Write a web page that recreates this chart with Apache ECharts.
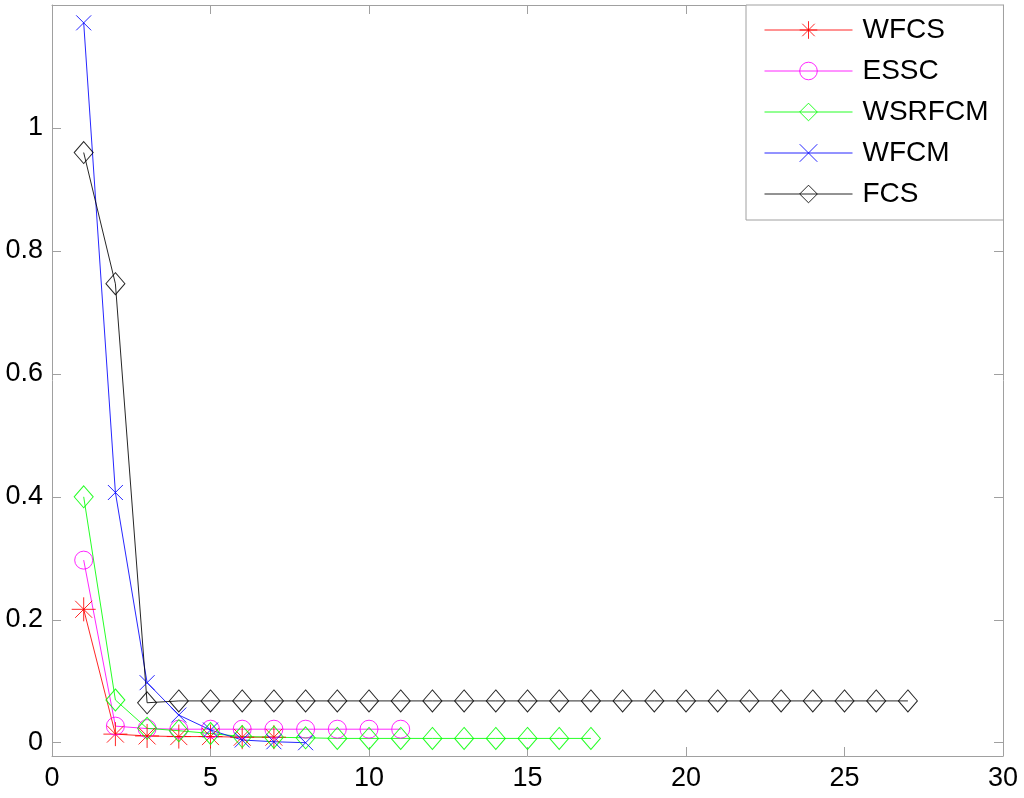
<!DOCTYPE html>
<html>
<head>
<meta charset="utf-8">
<style>
  html, body { margin: 0; padding: 0; background: #fff; }
  #chart { width: 1024px; height: 798px; }
</style>
<script src="https://cdn.jsdelivr.net/npm/echarts@6/dist/echarts.min.js"></script>
</head>
<body>
<div id="chart"></div>
<script>
// values, x = 1, 2, 3 ...
var seriesNames = ['WFCS', 'ESSC', 'WSRFCM', 'WFCM', 'FCS']
var wfcs = [0.217, 0.014, 0.011, 0.010, 0.010, 0.009, 0.009]
var essc = [0.297, 0.027, 0.023, 0.022, 0.022, 0.022, 0.022, 0.022, 0.022, 0.022, 0.022]
var wsrfcm = [0.400, 0.0695, 0.0234, 0.0195, 0.015, 0.010, 0.009, 0.008, 0.007, 0.007, 0.007, 0.007, 0.007, 0.007, 0.007, 0.007, 0.007]
var wfcm = [1.171, 0.407, 0.0977, 0.045, 0.0207, 0.0044, 0.0016, 0.0]
var fcs = [0.960, 0.7466, 0.065, 0.068, 0.068, 0.068, 0.068, 0.068, 0.068, 0.068, 0.068, 0.068, 0.068, 0.068,
  0.068, 0.068, 0.068, 0.068, 0.068, 0.068, 0.068, 0.068, 0.068, 0.068, 0.068, 0.068, 0.068]
var yTicks = [0, 0.2, 0.4, 0.6, 0.8, 1]

var FONT = '"Liberation Sans", Arial, sans-serif'
var AXIS_GRAY = '#a0a0a0'

// matlab style markers
var STAR = 'path://M0,11L22,11M11,0L11,22M3.2,3.2L18.8,18.8M18.8,3.2L3.2,18.8'
var CROSS = 'path://M0,0L10,10M10,0L0,10'

function toPoints(arr) {
  return arr.map(function (v, i) { return [i + 1, v] })
}

function makeSeries(name, data, color, symbol, size) {
  return {
    name: name,
    type: 'line',
    data: toPoints(data),
    color: color,
    symbol: symbol,
    symbolSize: size,
    showAllSymbol: true,
    silent: true,
    animation: false,
    lineStyle: { color: color, width: 1, opacity: 0.85 },
    itemStyle: { color: 'rgba(0,0,0,0)', borderColor: color, borderWidth: 1, opacity: 0.85 },
    emphasis: { disabled: true }
  }
}

var chart = echarts.init(document.getElementById('chart'))

var xCommon = {
  type: 'value',
  min: 0,
  max: 30,
  interval: 5,
  splitLine: { show: false },
  axisLine: { show: true, onZero: false, lineStyle: { color: AXIS_GRAY } },
  axisTick: { inside: true, length: 9, lineStyle: { color: AXIS_GRAY } }
}
var yCommon = {
  type: 'value',
  min: -0.0216,
  max: 1.2,
  splitLine: { show: false },
  axisLine: { show: true, onZero: false, lineStyle: { color: AXIS_GRAY } },
  axisTick: { inside: true, length: 9, customValues: yTicks, lineStyle: { color: AXIS_GRAY } }
}

chart.setOption({
  backgroundColor: '#fff',
  animation: false,
  grid: { left: 52, top: 5, right: 21, bottom: 42 },
  legend: {
    orient: 'vertical',
    left: 746,
    top: 5,
    padding: [10, 15, 11, 18],
    itemWidth: 88,
    itemHeight: 22,
    itemGap: 11,
    backgroundColor: '#fff',
    borderColor: AXIS_GRAY,
    borderWidth: 1,
    borderRadius: 0,
    selectedMode: false,
    itemStyle: { borderWidth: 1 },
    lineStyle: { width: 1 },
    textStyle: { fontFamily: FONT, fontSize: 28, color: '#000', lineHeight: 30, padding: [0, 0, 0, 5] },
    data: seriesNames
  },
  xAxis: [
    Object.assign({}, xCommon, {
      position: 'bottom',
      axisLabel: { color: '#000', fontFamily: FONT, fontSize: 27, margin: 9 }
    }),
    Object.assign({}, xCommon, { position: 'top', axisLabel: { show: false } })
  ],
  yAxis: [
    Object.assign({}, yCommon, {
      position: 'left',
      axisLabel: { color: '#000', fontFamily: FONT, fontSize: 27, margin: 9, customValues: yTicks }
    }),
    Object.assign({}, yCommon, { position: 'right', axisLabel: { show: false } })
  ],
  series: [
    makeSeries('WFCS', wfcs, '#ff0000', STAR, 24),
    makeSeries('ESSC', essc, '#ff00ff', 'circle', 18),
    makeSeries('WSRFCM', wsrfcm, '#00ff00', 'diamond', [19, 22]),
    makeSeries('WFCM', wfcm, '#0000ff', CROSS, 15),
    makeSeries('FCS', fcs, '#000000', 'diamond', [19, 22])
  ]
})
</script>
</body>
</html>
